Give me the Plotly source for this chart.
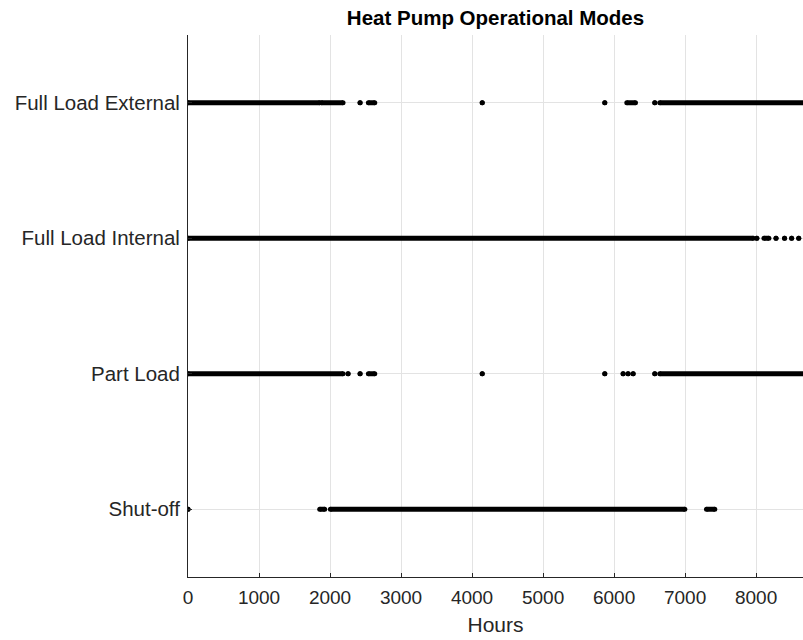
import plotly.graph_objects as go

# Mode labels (y categories, bottom to top)
mode_labels = ["Shut-off", "Part Load", "Full Load Internal", "Full Load External"]
mode_codes = [1, 2, 3, 4]

# Hour intervals (start, end) during which each mode is active
shutoff_runs = [(0, 0), (1855, 1925), (2005, 6996), (7301, 7418)]
part_load_runs = [(0, 2183), (2254, 2254), (2423, 2423), (2540, 2630), (4143, 4143),
                  (5869, 5869), (6127, 6127), (6197, 6197), (6268, 6268),
                  (6573, 6573), (6643, 8760)]
full_internal_runs = [(0, 7960), (8010, 8010), (8110, 8180), (8280, 8280),
                      (8400, 8400), (8500, 8500), (8600, 8600)]
full_external_runs = [(0, 1855), (1879, 2183), (2423, 2423), (2540, 2630), (4143, 4143),
                      (5869, 5869), (6179, 6301), (6573, 6573), (6643, 8760)]

x_ticks = [0, 1000, 2000, 3000, 4000, 5000, 6000, 7000, 8000]

all_runs = [shutoff_runs, part_load_runs, full_internal_runs, full_external_runs]

fig = go.Figure()
for code, runs in zip(mode_codes, all_runs):
    lx, ly = [], []
    for s, e in runs:
        lx += [s, e, None]
        ly += [code, code, None]
    fig.add_trace(go.Scatter(x=lx, y=ly, mode="lines+markers",
                             line=dict(color="black", width=5),
                             marker=dict(color="black", size=5),
                             showlegend=False, hoverinfo="skip"))

axis_col = "#262626"
fig.update_layout(
    width=803, height=640,
    margin=dict(l=188, r=0, t=35, b=63),
    paper_bgcolor="white", plot_bgcolor="white",
    font=dict(family="Liberation Sans, Arial, sans-serif", size=19, color=axis_col),
    title=dict(text="<b>Heat Pump Operational Modes</b>", x=(188 + 803) / 2 / 803,
               xanchor="center", y=1 - 18 / 640, yanchor="middle",
               font=dict(size=20.5, color="black")),
    xaxis=dict(range=[0, 8660], tickvals=x_ticks,
               showgrid=True, gridcolor="#e3e3e3", gridwidth=1, zeroline=False,
               showline=True, linecolor=axis_col, linewidth=1,
               ticks="inside", ticklen=4, tickcolor=axis_col, ticklabelstandoff=3,
               tickfont=dict(size=19),
               title=dict(text="Hours", font=dict(size=21), standoff=10)),
    yaxis=dict(range=[0.5, 4.5], tickvals=mode_codes, ticktext=mode_labels,
               showgrid=True, gridcolor="#e3e3e3", gridwidth=1, zeroline=False,
               showline=True, linecolor=axis_col, linewidth=1,
               ticks="inside", ticklen=4, tickcolor=axis_col, ticklabelstandoff=3,
               tickfont=dict(size=20.5)),
)

fig.write_html("out.html")
